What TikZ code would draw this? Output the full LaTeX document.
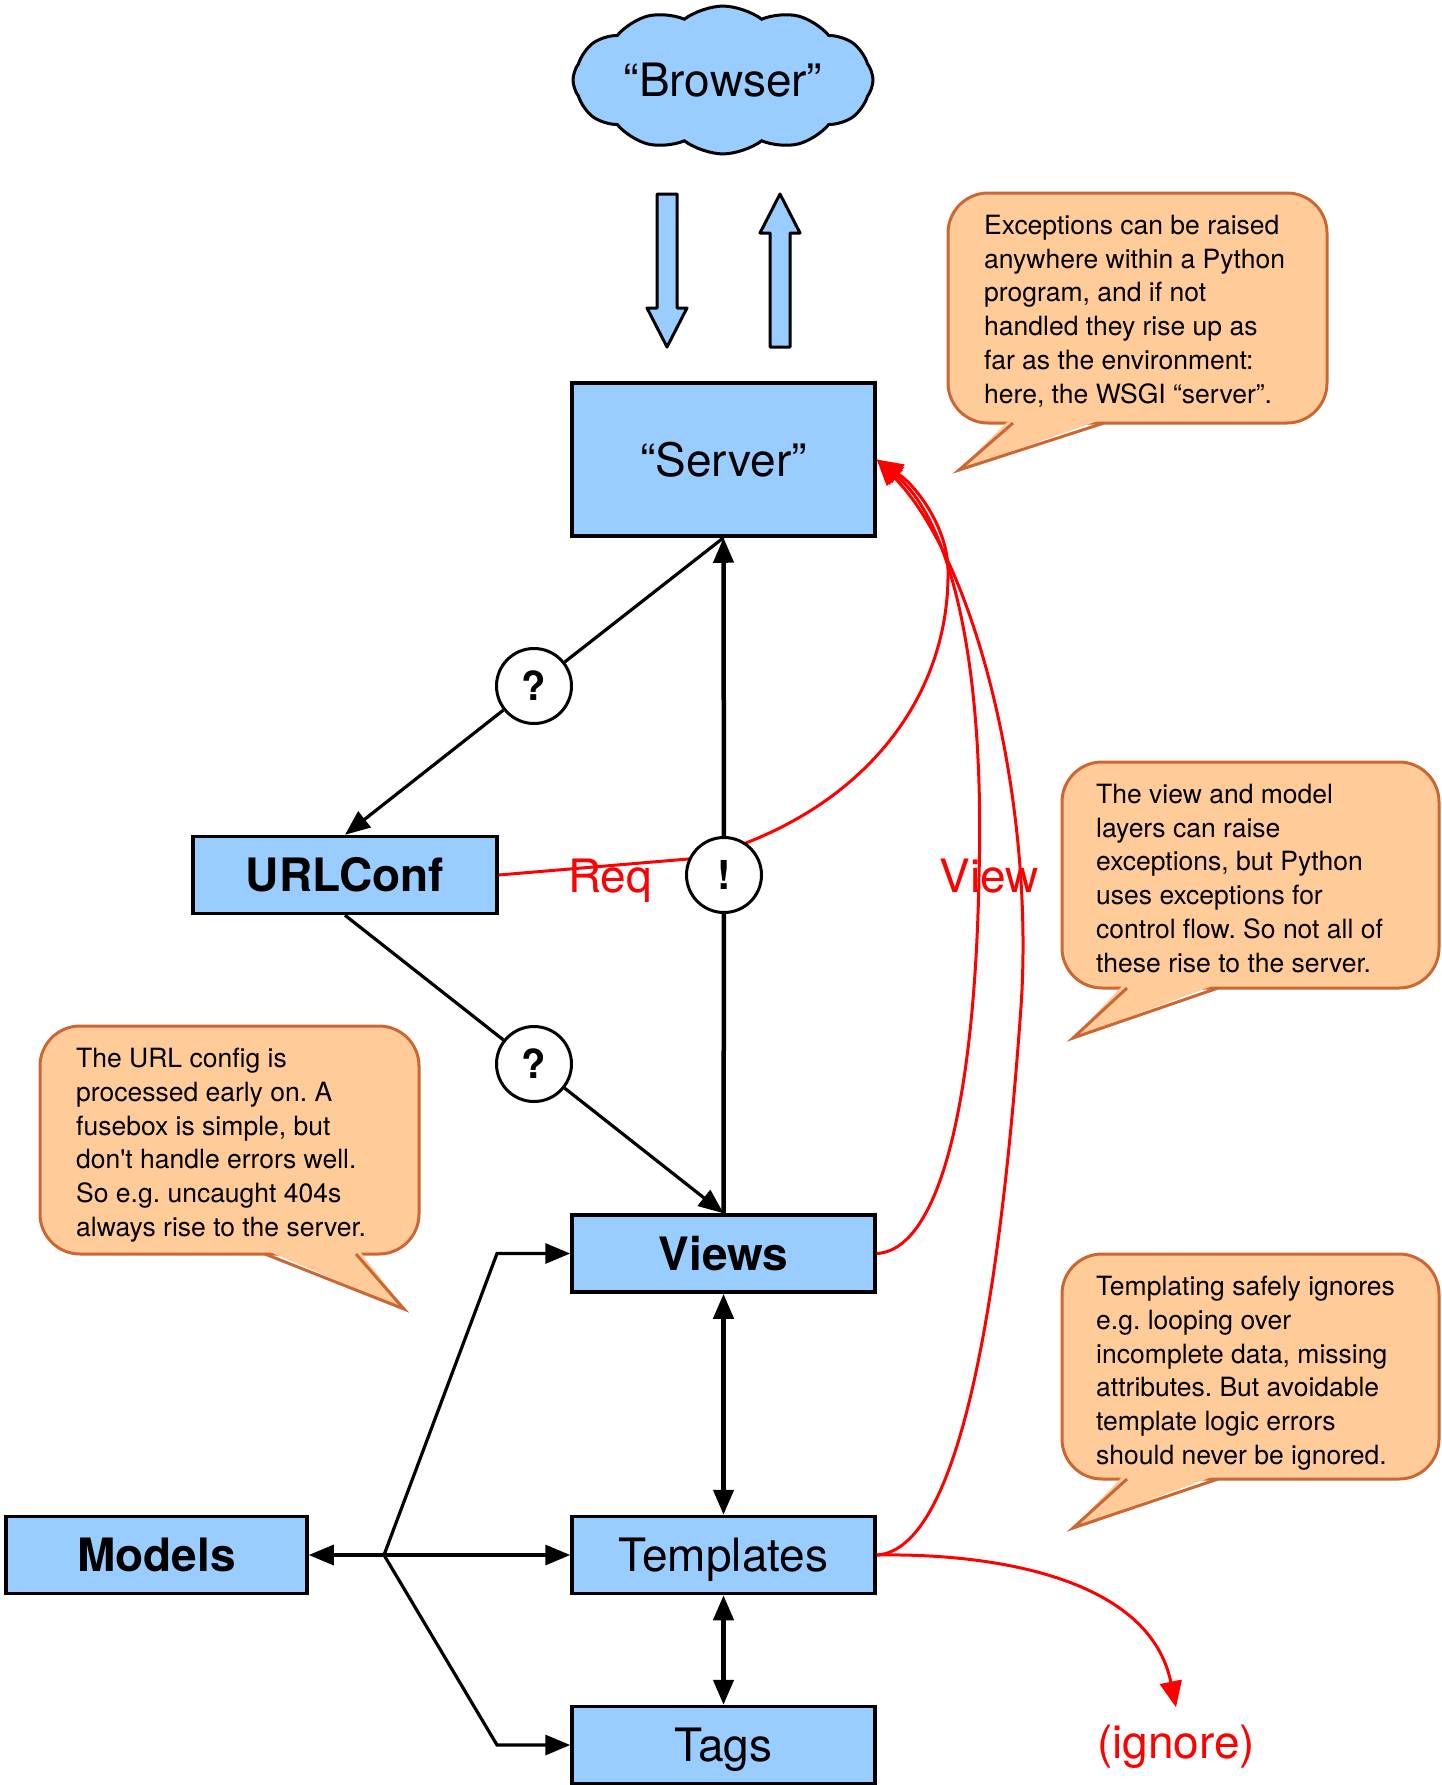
\documentclass[tikz,border=0pt]{standalone}
\usepackage{fontspec}
\setmainfont{TeX Gyre Heros}
\usepackage{tikz}
\usetikzlibrary{arrows.meta,shapes.symbols}

\definecolor{boxblue}{HTML}{99CCFF}
\definecolor{notefill}{HTML}{FFCC99}
\definecolor{noteline}{HTML}{CC6633}

\begin{document}
\frenchspacing
\begin{tikzpicture}[x=1pt,y=-1pt]
	\tikzstyle{layer}=[rectangle,draw,fill=boxblue,line width=3.5pt,minimum width=303pt,minimum height=77pt,inner sep=0pt,text height=33pt,text depth=0pt,font=\fontsize{46}{52}\selectfont]
	\tikzstyle{test}=[circle,draw,fill=white,line width=3pt,minimum size=75pt,inner sep=0pt,font=\fontsize{40}{44}\selectfont\bfseries]
	\tikzstyle{link}=[draw,line width=3.2pt]
	\tikzstyle{flow}=[draw,line width=3.2pt,-{Triangle[length=25pt,width=20pt]}]
	\tikzstyle{twoway}=[draw,line width=4.5pt,{Triangle[length=25pt,width=20pt]}-{Triangle[length=25pt,width=20pt]}]
	\tikzstyle{raise}=[draw,red,line width=3pt,-{Triangle[length=26pt,width=22pt]}]
	\tikzstyle{redlabel}=[red,inner sep=0pt,text height=33pt,text depth=0pt,font=\fontsize{46}{52}\selectfont]
	\tikzstyle{notebox}=[draw=noteline,fill=notefill,line width=3pt,rounded corners=40pt]
	\tikzstyle{tail}=[draw=noteline,line width=3pt,line join=miter]
	\tikzstyle{notetext}=[anchor=north west,inner sep=0pt,align=left,font=\fontsize{26.5}{33.7}\selectfont]
	\tikzstyle{bigarrow}=[draw,fill=boxblue,line width=3pt,line join=round]

	\useasboundingbox (0,0) rectangle (1442,1785);

	\node[cloud,cloud puffs=12,cloud puff arc=75,aspect=2.2,draw,fill=boxblue,line width=3pt,minimum width=300pt,minimum height=134pt,inner sep=0pt,font=\fontsize{46}{52}\selectfont] (browser) at (723,80) {“Browser”};
	\draw[bigarrow] (657,194) -- (677,194) -- (677,308) -- (687,308) -- (667,347) -- (647,308) -- (657,308) -- cycle;
	\draw[bigarrow] (770,347) -- (790,347) -- (790,233) -- (800,233) -- (780,194) -- (760,233) -- (770,233) -- cycle;

	\node[layer,minimum height=153pt] (server) at (723.5,459.5) {“Server”};
	\node[layer,minimum width=304pt] (urlconf) at (345,875) {\bfseries URLConf};
	\node[layer] (views) at (723.5,1253.5) {\bfseries Views};
	\node[layer] (templates) at (723.5,1555) {Templates};
	\node[layer] (tags) at (723.5,1745) {Tags};
	\node[layer,minimum width=301pt] (models) at (156.5,1555) {\bfseries Models};

	\node[redlabel] (req) at (610,876) {Req};
	\node[redlabel] (viewlbl) at (989,876) {View};
	\node[redlabel,inner ysep=18pt] (ignore) at (1176,1742) {(ignore)};

	% exceptions rising to the server
	\draw[raise] (urlconf.east) -- (700,858) .. controls (860,815) and (950,700) .. (948,570) .. controls (948,530) and (918,487) .. (server.east);
	\draw[raise] (views.east) .. controls (940,1250) and (975,1100) .. (979,876) .. controls (985,660) and (950,520) .. (server.east);
	\draw[raise] (templates.east) .. controls (960,1550) and (1000,1300) .. (1021,1007) .. controls (1035,800) and (975,560) .. (server.east);
	\draw[raise] (templates.east) .. controls (1000,1553) and (1150,1580) .. (ignore.north);

	\node[test] (q1) at (534,686) {?};
	\node[test] (bang) at (724,875) {!};
	\node[test] (q2) at (534,1064) {?};

	\draw[link] (server.south) -- (q1);
	\draw[flow] (q1) -- (urlconf.north);
	\draw[link] (urlconf.south) -- (q2);
	\draw[flow] (q2) -- (views.north);
	\draw[link,line width=4.5pt] (views.north) -- (bang);
	\draw[flow,line width=4.5pt] (bang) -- (server.south);
	\draw[twoway] (views.south) -- (templates.north);
	\draw[twoway] (templates.south) -- (tags.north);

	\coordinate (fork) at (384,1555);
	\coordinate (forkup) at (497,1253.5);
	\coordinate (forkdown) at (497,1745);
	\draw[flow] (fork) -- (models.east);
	\draw[flow] (fork) -- (templates.west);
	\draw[flow] (fork) -- (forkup) -- (views.west);
	\draw[flow] (fork) -- (forkdown) -- (tags.west);

	\draw[notebox] (948,193) rectangle (1327,423);
	\fill[notefill] (1011,418) -- (959,470) -- (1106,418) -- cycle;
	\draw[tail] (1013,423) -- (959,470) -- (1104,423);
	\draw[notebox] (1062,762) rectangle (1439,988);
	\fill[notefill] (1125,983) -- (1073,1038) -- (1220,983) -- cycle;
	\draw[tail] (1127,988) -- (1073,1038) -- (1218,988);
	\draw[notebox] (40,1026) rectangle (419,1254);
	\fill[notefill] (263,1249) -- (404,1309) -- (358,1249) -- cycle;
	\draw[tail] (265,1254) -- (404,1309) -- (356,1254);
	\draw[notebox] (1062,1254) rectangle (1439,1479);
	\fill[notefill] (1125,1474) -- (1073,1528) -- (1220,1474) -- cycle;
	\draw[tail] (1127,1479) -- (1073,1528) -- (1218,1479);

	\node[notetext] (note1) at (984,215) {Exceptions can be raised\\anywhere within a Python\\program, and if not\\handled they rise up as\\far as the environment:\\here, the WSGI “server”.};
	\node[notetext] (note2) at (1096,784) {The view and model\\layers can raise\\exceptions, but Python\\uses exceptions for\\control flow. So not all of\\these rise to the server.};
	\node[notetext] (note3) at (76,1048) {The URL config is\\processed early on. A\\fusebox is simple, but\\don\textquotesingle t handle errors well.\\So e.g. uncaught 404s\\always rise to the server.};
	\node[notetext] (note4) at (1096,1276) {Templating safely ignores\\e.g. looping over\\incomplete data, missing\\attributes. But avoidable\\template logic errors\\should never be ignored.};
\end{tikzpicture}
\end{document}
